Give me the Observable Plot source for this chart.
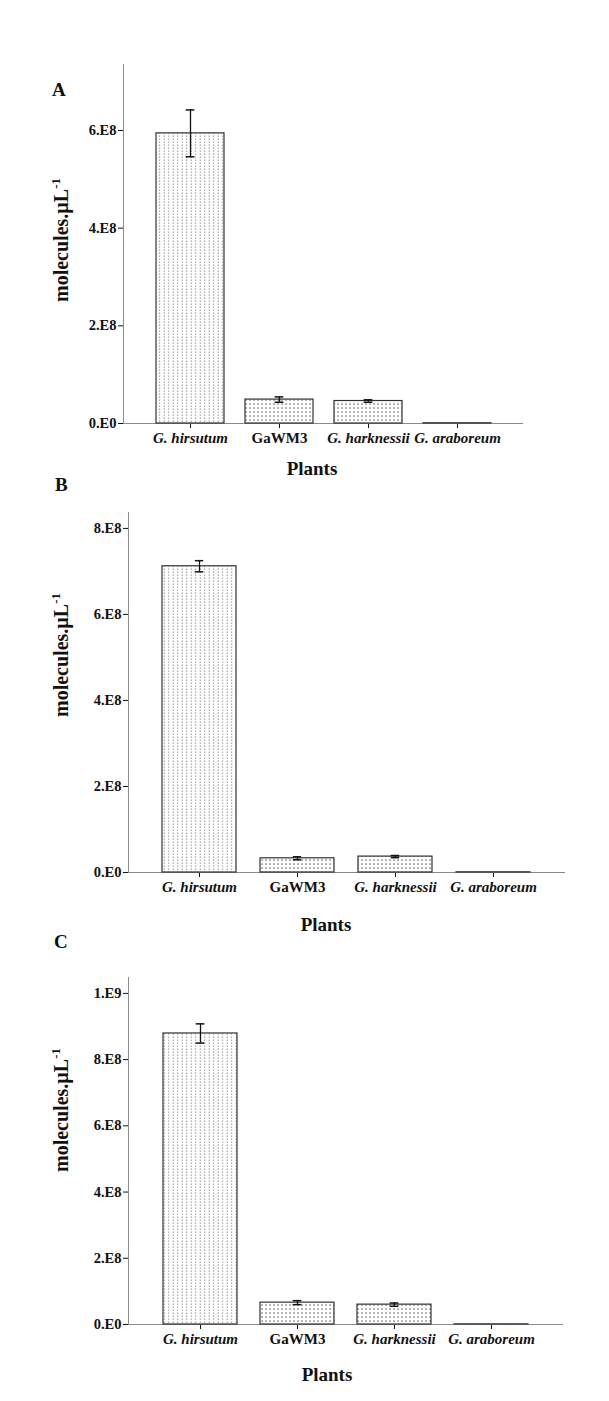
<!DOCTYPE html>
<html>
<head>
<meta charset="utf-8">
<script src="https://cdn.jsdelivr.net/npm/d3@7"></script>
<script src="https://cdn.jsdelivr.net/npm/@observablehq/plot@0.6"></script>
<style>
  html, body { margin: 0; padding: 0; background: #fff; }
  #page { position: relative; width: 609px; height: 1401px; overflow: hidden; background: #fff;
          font-family: 'Liberation Serif', 'Times New Roman', serif; font-weight: bold; color: #111; }
  .abs { position: absolute; line-height: 1; white-space: nowrap; }
  .panel { position: absolute; left: 0; }
</style>
</head>
<body>
<div id="page">
  <svg width="0" height="0" style="position:absolute">
    <defs>
      <pattern id="dotsLight" patternUnits="userSpaceOnUse" width="4.5" height="3">
        <rect width="4.5" height="3" fill="#fff"/>
        <rect x="1.7" y="0.4" width="1" height="1.6" fill="#9a9a9a"/>
      </pattern>
      <pattern id="dotsDark" patternUnits="userSpaceOnUse" width="4" height="4">
        <rect width="4" height="4" fill="#fff"/>
        <rect x="1.4" y="1.4" width="1.3" height="1.3" fill="#555"/>
      </pattern>
    </defs>
  </svg>
</div>
<script>
// ---- data ----
const categories = ["G. hirsutum", "GaWM3", "G. harknessii", "G. araboreum"];
const meansA = [5.94e8, 0.49e8, 0.46e8, 5e5];
const errsA  = [0.48e8, 0.055e8, 0.025e8, 0];
const meansB = [7.12e8, 0.33e8, 0.37e8, 5e5];
const errsB  = [0.13e8, 0.035e8, 0.025e8, 0];
const meansC = [8.79e8, 0.66e8, 0.60e8, 5e5];
const errsC  = [0.29e8, 0.06e8, 0.05e8, 0];
const ticksA = [0, 2e8, 4e8, 6e8];
const ticksB = [0, 2e8, 4e8, 6e8, 8e8];
const ticksC = [0, 2e8, 4e8, 6e8, 8e8, 1e9];
const panelLetters = ["A", "B", "C"];
const xTitle = "Plants";

// ---- layout ----
const panels = [
  {letter: panelLetters[0], means: meansA, errs: errsA, ticks: ticksA, ymax: 7.35e8,
   top: 54, plotH: 359, ml: 123, mr: 86,
   letterX: 52, letterBase: 96, titleCx: 61, titleCy: 240, plantsX: 312, plantsBase: 475},
  {letter: panelLetters[1], means: meansB, errs: errsB, ticks: ticksB, ymax: 8.37e8,
   top: 502, plotH: 360, ml: 128, mr: 44,
   letterX: 55, letterBase: 491, titleCx: 61, titleCy: 655, plantsX: 326, plantsBase: 931},
  {letter: panelLetters[2], means: meansC, errs: errsC, ticks: ticksC, ymax: 1.048e9,
   top: 967, plotH: 347, ml: 128, mr: 46,
   letterX: 54, letterBase: 948, titleCx: 61, titleCy: 1110, plantsX: 327, plantsBase: 1381}
];

const fmt = d => d.toExponential(0).replace("e+", ".E").replace("e-", ".E-");
const page = document.getElementById("page");

function addText(html, left, top, size, extra = "") {
  const el = document.createElement("div");
  el.className = "abs";
  el.style.left = left + "px";
  el.style.top = top + "px";
  el.style.fontSize = size + "px";
  el.style.cssText += extra;
  el.innerHTML = html;
  page.appendChild(el);
  return el;
}

panels.forEach(p => {
  const rows = categories.map((c, i) => ({cat: c, v: p.means[i], e: p.errs[i], i}));
  const mt = 10, mb = 30;
  const bandStep = (609 - p.ml - p.mr) / (categories.length - 0.24 + 2 * 0.345);
  const bw = bandStep * 0.76;
  const capInset = (bw - 9) / 2;
  const withErr = rows.filter(d => d.e > 0);
  const chart = Plot.plot({
    width: 609,
    height: p.plotH + mt + mb,
    marginTop: mt, marginBottom: mb, marginLeft: p.ml, marginRight: p.mr,
    style: {fontFamily: "'Liberation Serif', 'Times New Roman', serif", fontWeight: "bold",
            fontSize: "14.5px", color: "#111", background: "transparent"},
    x: {domain: categories, paddingInner: 0.24, paddingOuter: 0.345, label: null, tickSize: 5, tickPadding: 4},
    y: {domain: [0, p.ymax], ticks: p.ticks, tickFormat: fmt, label: null, tickSize: 5, tickPadding: 2},
    marks: [
      Plot.frame({anchor: "left", stroke: "#8a8a8a"}),
      Plot.ruleY([0], {stroke: "#8a8a8a"}),
      Plot.barY(rows.filter(d => d.i === 0), {x: "cat", y: "v", fill: "url(#dotsLight)", stroke: "#333", strokeWidth: 1.2}),
      Plot.barY(rows.filter(d => d.i !== 0), {x: "cat", y: "v", fill: "url(#dotsDark)", stroke: "#333", strokeWidth: 1.2}),
      Plot.ruleX(withErr, {x: "cat", y1: d => d.v - d.e, y2: d => d.v + d.e, stroke: "#111", strokeWidth: 1.3}),
      Plot.tickY(withErr, {x: "cat", y: d => d.v + d.e, stroke: "#111", strokeWidth: 1.5, insetLeft: capInset, insetRight: capInset}),
      Plot.tickY(withErr, {x: "cat", y: d => d.v - d.e, stroke: "#111", strokeWidth: 1.5, insetLeft: capInset, insetRight: capInset})
    ]
  });
  chart.classList.add("panel");
  chart.style.top = (p.top) + "px";
  // style x tick labels: bigger, species italic
  d3.select(chart).selectAll("text").each(function() {
    const t = this.textContent;
    if (categories.includes(t)) {
      d3.select(this).attr("font-size", 15).style("font-size", "15px");
      if (t.startsWith("G. ")) d3.select(this).style("font-style", "italic");
    }
  });
  page.appendChild(chart);

  // panel letter
  addText(p.letter, p.letterX, p.letterBase - 0.8375 * 19, 19);
  // x title
  const pl = addText(xTitle, p.plantsX, p.plantsBase - 0.8375 * 19, 19);
  pl.style.transform = "translateX(-50%)";
  // y title (rotated)
  const yt = addText('molecules.µL<span style="font-size:13px;position:relative;top:-0.6em">-1</span>',
                     p.titleCx, p.titleCy, 20);
  yt.style.transform = "translate(-50%,-50%) rotate(-90deg)";
});
</script>
</body>
</html>
